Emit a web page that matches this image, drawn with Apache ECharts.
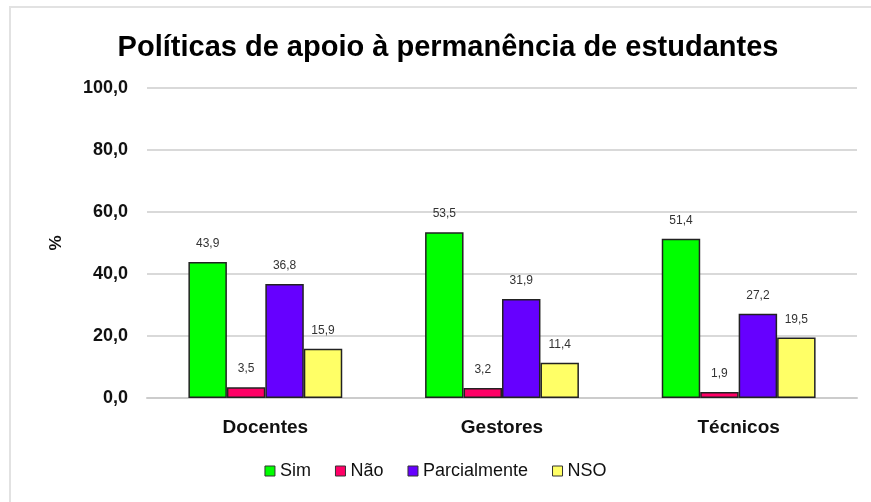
<!DOCTYPE html>
<html>
<head>
<meta charset="utf-8">
<script src="https://cdn.jsdelivr.net/npm/echarts@6/dist/echarts.min.js"></script>
<style>
  html, body { margin: 0; padding: 0; background: #fff; }
  #main { width: 871px; height: 502px; }
</style>
</head>
<body>
<div id="main"></div>
<script>
// dados
var categorias = ['Docentes', 'Gestores', 'Técnicos'];
var sim = [43.9, 53.5, 51.4];
var nao = [3.5, 3.2, 1.9];
var parcialmente = [36.8, 31.9, 27.2];
var nso = [15.9, 11.4, 19.5];
var yTicks = [0, 20, 40, 60, 80, 100];

(function () {
  var myChart = echarts.init(document.getElementById('main'));
  var fonte = 'Liberation Sans, Arial, sans-serif';

  function serie(nome, dados, cor) {
    return {
      name: nome,
      type: 'bar',
      data: dados,
      barGap: '0%',
      barCategoryGap: '35%',
      itemStyle: { color: cor, borderColor: '#222', borderWidth: 1.5 },
      label: {
        show: true,
        position: 'top',
        distance: 12,
        color: '#333',
        fontFamily: fonte,
        fontSize: 12,
        formatter: function (p) { return p.value.toFixed(1).replace('.', ','); }
      }
    };
  }

  var option = {
    backgroundColor: '#fff',
    animation: false,
    title: {
      text: 'Políticas de apoio à permanência de estudantes',
      left: 443,
      textAlign: 'center',
      top: 28,
      textStyle: { fontFamily: fonte, fontSize: 29, fontWeight: 'bold', color: '#000' }
    },
    // moldura cinza clara
    graphic: [{
      type: 'rect',
      shape: { x: 10, y: 7, width: 880, height: 520 },
      style: { fill: 'none', stroke: '#e2e2e2', lineWidth: 2 },
      silent: true
    }],
    legend: {
      bottom: 17,
      left: 'center',
      itemWidth: 10,
      itemHeight: 10,
      itemGap: 24,
      icon: 'rect',
      itemStyle: { borderColor: '#333', borderWidth: 1 },
      textStyle: { fontFamily: fonte, fontSize: 18, color: '#111' },
      data: ['Sim', 'Não', 'Parcialmente', 'NSO']
    },
    grid: { left: 147, right: 14, top: 88, bottom: 104 },
    xAxis: {
      type: 'category',
      data: categorias,
      axisTick: { show: false },
      axisLine: { lineStyle: { color: '#ccc', width: 2 } },
      axisLabel: { fontFamily: fonte, fontSize: 19, fontWeight: 'bold', color: '#111', margin: 20 }
    },
    yAxis: {
      type: 'value',
      min: yTicks[0],
      max: yTicks[yTicks.length - 1],
      interval: 20,
      name: '%',
      nameLocation: 'middle',
      nameGap: 82,
      nameRotate: 90,
      nameTextStyle: { fontFamily: fonte, fontSize: 17, fontWeight: 'bold', color: '#111' },
      axisLine: { show: false },
      axisTick: { show: false },
      splitLine: { lineStyle: { color: '#d9d9d9', width: 2 } },
      axisLabel: {
        fontFamily: fonte, fontSize: 18, fontWeight: 'bold', color: '#111', margin: 19,
        formatter: function (v) { return v.toFixed(1).replace('.', ','); }
      }
    },
    series: [
      serie('Sim', sim, '#00ff00'),
      serie('Não', nao, '#ff0066'),
      serie('Parcialmente', parcialmente, '#6600ff'),
      serie('NSO', nso, '#ffff66')
    ]
  };

  myChart.setOption(option);
  window.addEventListener('resize', function () {
    myChart.resize();
  });
})();
</script>
</body>
</html>
